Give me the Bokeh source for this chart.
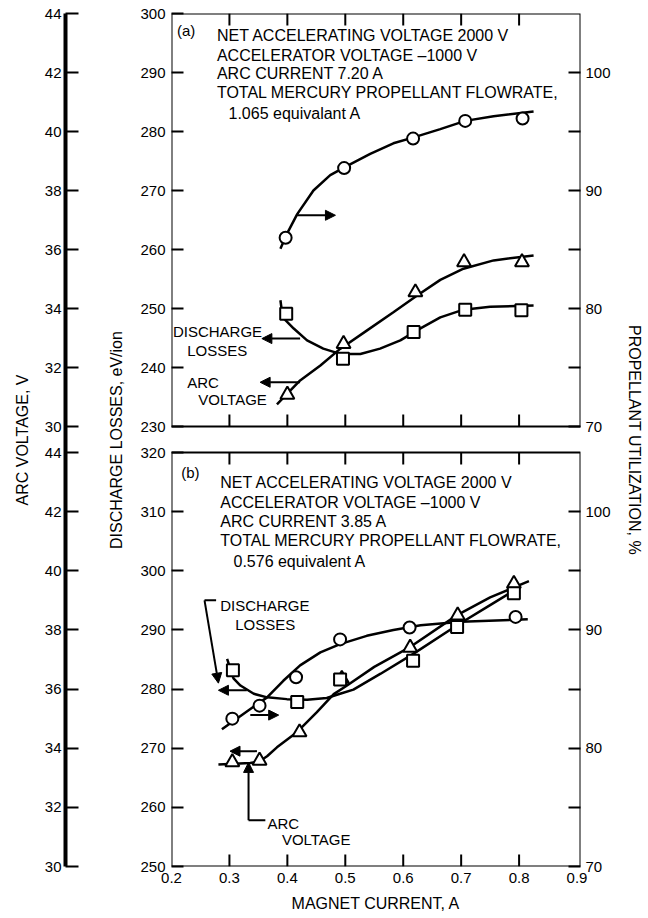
from bokeh.plotting import figure
from bokeh.models import (Range1d, LinearAxis, FixedTicker, BoxAnnotation,
                          Arrow, NormalHead, Label)
from bokeh.embed import file_html
from bokeh.resources import INLINE

FONT = "Liberation Sans"

# ---------------- axes / scales ----------------
x_ticks = [0.2, 0.3, 0.4, 0.5, 0.6, 0.7, 0.8, 0.9]
x_inner = [0.3, 0.4, 0.5, 0.6, 0.7, 0.8]
x_lim = [0.2, 0.906]

arc_lim = [30, 44]
arc_ticks = [30, 32, 34, 36, 38, 40, 42, 44]
util_lim = [70, 105]
util_major = [70, 80, 90, 100]
util_minor = [75, 85, 95]
loss_lim_a = [230, 300]
loss_ticks_a = [230, 240, 250, 260, 270, 280, 290, 300]
loss_lim_b = [250, 320]
loss_ticks_b = [250, 260, 270, 280, 290, 300, 310, 320]

# ---------------- panel (a) data ----------------
a_util_x = [0.397, 0.498, 0.617, 0.707, 0.806]
a_util = [86.0, 91.9, 94.4, 95.9, 96.1]
a_loss_x = [0.398, 0.496, 0.618, 0.707, 0.804]
a_loss = [249.1, 241.5, 246.0, 249.8, 249.7]
a_arc_x = [0.400, 0.497, 0.621, 0.705, 0.805]
a_arc = [31.08, 32.80, 34.55, 35.57, 35.57]

a_util_fit_x = [0.388, 0.399, 0.417, 0.445, 0.474, 0.500, 0.543, 0.583, 0.618, 0.664, 0.707, 0.756, 0.825]
a_util_fit = [85.06, 86.3, 88.0, 90.0, 91.3, 92.0, 93.1, 94.0, 94.5, 95.2, 95.9, 96.3, 96.7]
a_arc_fit_x = [0.382, 0.422, 0.457, 0.491, 0.537, 0.583, 0.624, 0.664, 0.704, 0.756, 0.825]
a_arc_fit = [30.75, 31.56, 32.07, 32.63, 33.25, 33.87, 34.44, 34.97, 35.35, 35.63, 35.80]
a_loss_fit_x = [0.388, 0.392, 0.411, 0.434, 0.462, 0.491, 0.526, 0.560, 0.595, 0.629, 0.664, 0.704, 0.750, 0.825]
a_loss_fit = [251.4, 248.5, 246.6, 244.6, 243.2, 242.3, 242.3, 243.2, 244.6, 246.6, 248.5, 249.8, 250.3, 250.5]

# ---------------- panel (b) data ----------------
b_util_x = [0.305, 0.352, 0.415, 0.491, 0.611, 0.794]
b_util = [82.5, 83.6, 86.0, 89.2, 90.2, 91.1]
b_loss_x = [0.306, 0.417, 0.491, 0.617, 0.693, 0.791]
b_loss = [283.2, 277.8, 281.6, 284.8, 290.5, 296.2]
b_arc_x = [0.305, 0.352, 0.421, 0.494, 0.612, 0.694, 0.791]
b_arc = [33.53, 33.58, 34.54, 36.35, 37.40, 38.49, 39.56]

b_util_fit_x = [0.287, 0.324, 0.365, 0.393, 0.422, 0.457, 0.491, 0.537, 0.583, 0.630, 0.700, 0.815]
b_util_fit = [81.6, 82.9, 84.3, 85.7, 87.0, 88.1, 88.8, 89.5, 90.0, 90.4, 90.7, 90.9]
b_loss_fit_x = [0.296, 0.307, 0.319, 0.342, 0.365, 0.399, 0.434, 0.468, 0.491, 0.514, 0.561, 0.618, 0.693, 0.750, 0.797]
b_loss_fit = [285.1, 281.8, 280.6, 279.2, 278.6, 278.3, 278.2, 278.5, 279.2, 279.9, 282.6, 286.0, 290.8, 294.2, 297.0]
b_arc_fit_x = [0.281, 0.336, 0.352, 0.365, 0.382, 0.417, 0.451, 0.480, 0.503, 0.550, 0.610, 0.693, 0.750, 0.817]
b_arc_fit = [33.45, 33.50, 33.56, 33.73, 34.03, 34.55, 35.22, 35.83, 36.12, 36.75, 37.40, 38.50, 39.10, 39.65]

header_a = ["NET ACCELERATING VOLTAGE 2000 V", "ACCELERATOR VOLTAGE \u20131000 V",
            "ARC CURRENT 7.20 A", "TOTAL MERCURY PROPELLANT FLOWRATE,", "1.065 equivalant A"]
header_b = ["NET ACCELERATING VOLTAGE 2000 V", "ACCELERATOR VOLTAGE \u20131000 V",
            "ARC CURRENT 3.85 A", "TOTAL MERCURY PROPELLANT FLOWRATE,", "0.576 equivalent A"]

# ---------------- layout ----------------
W, H = 648, 918
FRAME_H = 853
PANEL_PX = {"a": (440, 853), "b": (0, 414)}


def prange(lim, panel):
    lo, hi = lim
    p0, p1 = PANEL_PX[panel]
    k = (hi - lo) / (p1 - p0)
    return Range1d(lo - p0 * k, hi + (FRAME_H - p1) * k)


def ppos(v, lim, panel):
    lo, hi = lim
    p0, p1 = PANEL_PX[panel]
    return p0 + (v - lo) * (p1 - p0) / (hi - lo)


p = figure(width=W, height=H, x_range=Range1d(*x_lim), y_range=Range1d(0, FRAME_H),
           y_axis_location=None, output_backend="svg", toolbar_location=None,
           min_border_left=171, min_border_right=68, min_border_top=13, min_border_bottom=52)
p.outline_line_color = None
p.grid.visible = False
p.background_fill_color = "white"
p.border_fill_color = "white"

p.extra_y_ranges = {
    "loss_a": prange(loss_lim_a, "a"), "arc_a": prange(arc_lim, "a"), "util_a": prange(util_lim, "a"),
    "loss_b": prange(loss_lim_b, "b"), "arc_b": prange(arc_lim, "b"), "util_b": prange(util_lim, "b"),
}


def style_axis(ax, tick_in):
    ax.major_tick_in = tick_in
    ax.major_tick_out = 0
    ax.minor_tick_in = tick_in
    ax.minor_tick_out = 0
    ax.major_tick_line_width = 2
    ax.minor_tick_line_width = 2
    ax.major_tick_line_color = "black"
    ax.minor_tick_line_color = "black"
    ax.axis_line_width = 2
    ax.axis_line_color = "black"
    ax.major_label_text_font = FONT
    ax.major_label_text_font_size = "15px"
    ax.major_label_text_color = "black"
    ax.axis_label_text_font = FONT
    ax.axis_label_text_font_size = "16px"
    ax.axis_label_text_font_style = "normal"
    ax.axis_label_text_color = "black"


# discharge-loss axis (next to frame)
loss_pos = [ppos(v, loss_lim_a, "a") for v in loss_ticks_a] + [ppos(v, loss_lim_b, "b") for v in loss_ticks_b]
loss_lab = [str(v) for v in loss_ticks_a + loss_ticks_b]
loss_axis = LinearAxis(ticker=FixedTicker(ticks=loss_pos), major_label_overrides=dict(zip(loss_pos, loss_lab)),
                       axis_label="DISCHARGE LOSSES, eV/ion")
style_axis(loss_axis, 12)
loss_axis.axis_line_color = None
loss_axis.major_label_standoff = 6
loss_axis.axis_label_standoff = 12
p.add_layout(loss_axis, "left")

# blank spacer between the two left axes (one invisible tick in panel b, no label)
spacer_pos = ppos(31, arc_lim, "b")
spacer = LinearAxis(ticker=FixedTicker(ticks=[spacer_pos]), major_label_overrides={spacer_pos: ""},
                    axis_line_color=None, major_tick_in=0, major_tick_out=40,
                    minor_tick_in=0, minor_tick_out=0, major_label_standoff=0,
                    major_tick_line_color="white", major_tick_line_alpha=0.0, minor_tick_line_color=None)
p.add_layout(spacer, "left")

# arc-voltage axis (outer)
arc_pos = [ppos(v, arc_lim, "a") for v in arc_ticks] + [ppos(v, arc_lim, "b") for v in arc_ticks]
arc_lab = [str(v) for v in arc_ticks + arc_ticks]
arc_axis = LinearAxis(ticker=FixedTicker(ticks=arc_pos), major_label_overrides=dict(zip(arc_pos, arc_lab)),
                      axis_label="ARC VOLTAGE, V")
style_axis(arc_axis, 13)
arc_axis.axis_line_width = 4
arc_axis.axis_line_color = "black"
arc_axis.axis_line_alpha = 1.0
arc_axis.major_label_standoff = 4
arc_axis.axis_label_standoff = 11
p.add_layout(arc_axis, "left")

# propellant-utilization axis (right)
util_pos = [ppos(v, util_lim, "a") for v in util_major] + [ppos(v, util_lim, "b") for v in util_major]
util_lab = [str(v) for v in util_major + util_major]
util_min = [ppos(v, util_lim, "a") for v in util_minor] + [ppos(v, util_lim, "b") for v in util_minor]
util_axis = LinearAxis(ticker=FixedTicker(ticks=util_pos, minor_ticks=util_min),
                       major_label_overrides=dict(zip(util_pos, util_lab)),
                       axis_label="PROPELLANT UTILIZATION, %")
style_axis(util_axis, 12)
util_axis.axis_line_color = None
util_axis.major_label_standoff = 5
util_axis.axis_label_standoff = 12
try:
    util_axis.axis_label_orientation = "vertical"
except Exception:
    pass
p.add_layout(util_axis, "right")

# x axis (labels only; ticks drawn per panel border)
xa = p.xaxis[0]
xa.ticker = FixedTicker(ticks=x_ticks)
style_axis(xa, 0)
xa.axis_line_color = None
xa.major_tick_line_color = None
xa.minor_tick_line_color = None
xa.major_label_standoff = 6
xa.axis_label = "MAGNET CURRENT, A"
xa.axis_label_standoff = 9

# panel frames and x ticks on each border
for lim, rn in [(loss_lim_a, "loss_a"), (loss_lim_b, "loss_b")]:
    p.add_layout(BoxAnnotation(left=x_lim[0], right=x_lim[1], bottom=lim[0], top=lim[1], y_range_name=rn,
                               fill_alpha=0, line_color="black", line_alpha=1, line_width=2))
    p.ray(x=x_inner, y=[lim[0]] * len(x_inner), length=12, length_units="screen", angle=90,
          angle_units="deg", line_color="black", line_width=2, y_range_name=rn)
    p.ray(x=x_inner, y=[lim[1]] * len(x_inner), length=12, length_units="screen", angle=-90,
          angle_units="deg", line_color="black", line_width=2, y_range_name=rn)

# ---------------- curves and points ----------------
LW = 2.5
for fx, fy, rn in [(a_util_fit_x, a_util_fit, "util_a"), (a_arc_fit_x, a_arc_fit, "arc_a"),
                   (a_loss_fit_x, a_loss_fit, "loss_a"), (b_util_fit_x, b_util_fit, "util_b"),
                   (b_arc_fit_x, b_arc_fit, "arc_b"), (b_loss_fit_x, b_loss_fit, "loss_b")]:
    p.line(fx, fy, line_color="black", line_width=LW, y_range_name=rn)

for mx, my, rn, mk, sz in [(a_util_x, a_util, "util_a", "circle", 12), (a_arc_x, a_arc, "arc_a", "triangle", 14),
                           (a_loss_x, a_loss, "loss_a", "square", 12), (b_util_x, b_util, "util_b", "circle", 12),
                           (b_arc_x, b_arc, "arc_b", "triangle", 14), (b_loss_x, b_loss, "loss_b", "square", 12)]:
    p.scatter(mx, my, marker=mk, size=sz, fill_color="white", line_color="black", line_width=2,
              y_range_name=rn)


# ---------------- annotations ----------------
def label(x, y, text, rn, size="15px"):
    p.add_layout(Label(x=x, y=y, text=text, y_range_name=rn, text_font=FONT, text_font_size=size,
                       text_color="black", text_baseline="middle", text_align="left"))


def arrow(x0, y0, x1, y1, rn, head=True):
    end = NormalHead(size=10, fill_color="black", line_color="black", line_width=1) if head else None
    p.add_layout(Arrow(end=end, x_start=x0, y_start=y0, x_end=x1, y_end=y1, y_range_name=rn,
                       line_color="black", line_width=2))


label(0.2093, 297.1, "(a)", "loss_a")
for i, (t, yv) in enumerate(zip(header_a, [296.27, 292.88, 289.75, 286.66, 282.97])):
    label(0.2984 if i == 4 else 0.2784, yv, t, "loss_a", "16px")
label(0.2167, 316.67, "(b)", "loss_b")
for i, (t, yv) in enumerate(zip(header_b, [314.98, 311.6, 308.33, 305.12, 301.57])):
    label(0.3070 if i == 4 else 0.2841, yv, t, "loss_b", "16px")

label(0.2025, 246.15, "DISCHARGE", "loss_a")
label(0.2271, 242.8, "LOSSES", "loss_a")
label(0.2271, 237.46, "ARC", "loss_a")
label(0.2461, 234.58, "VOLTAGE", "loss_a")
arrow(0.422, 244.9, 0.356, 244.9, "loss_a")
arrow(0.422, 31.5, 0.353, 31.5, "arc_a")
arrow(0.417, 87.9, 0.483, 87.9, "util_a")

label(0.2841, 294.13, "DISCHARGE", "loss_b")
label(0.310, 290.87, "LOSSES", "loss_b")
label(0.3657, 257.22, "ARC", "loss_b")
label(0.3906, 254.51, "VOLTAGE", "loss_b")
arrow(0.330, 279.8, 0.281, 279.8, "loss_b")
arrow(0.336, 82.8, 0.385, 82.8, "util_b")
arrow(0.3475, 33.9, 0.301, 33.9, "arc_b")
arrow(0.277, 295.0, 0.257, 295.0, "loss_b", head=False)
arrow(0.257, 295.0, 0.281, 281.0, "loss_b")
arrow(0.362, 31.56, 0.333, 31.56, "arc_b", head=False)
arrow(0.333, 31.56, 0.333, 33.52, "arc_b")

open("out.html", "w").write(file_html(p, INLINE))
